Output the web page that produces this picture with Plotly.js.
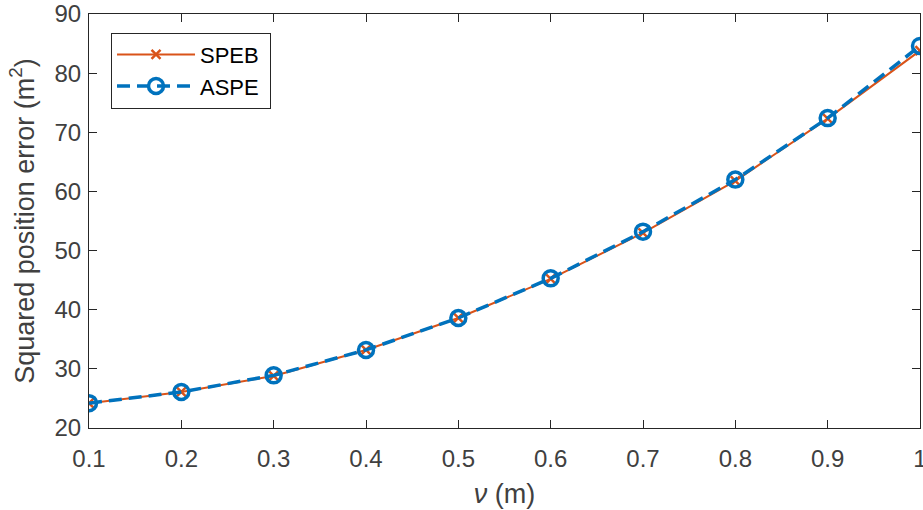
<!DOCTYPE html>
<html>
<head>
<meta charset="utf-8">
<script src="https://cdn.plot.ly/plotly-3.0.1.min.js"></script>
<style>html,body{margin:0;padding:0;background:#fff;}#chart{width:923px;height:510px;}</style>
</head>
<body>
<div id="chart"></div>
<script>
var nu = [0.1, 0.2, 0.3, 0.4, 0.5, 0.6, 0.7, 0.8, 0.9, 1.0];
var speb = [24.2, 26.1, 28.8, 33.2, 38.6, 45.2, 53.0, 61.8, 72.3, 83.8];
var aspe = [24.2, 26.1, 28.9, 33.2, 38.6, 45.3, 53.2, 62.0, 72.4, 84.6];
var seriesNames = ['SPEB\u00a0', 'ASPE\u00a0'];
var xTickVals = [0.1, 0.2, 0.3, 0.4, 0.5, 0.6, 0.7, 0.8, 0.9, 1.0];
var xTickText = ['0.1', '0.2', '0.3', '0.4', '0.5', '0.6', '0.7', '0.8', '0.9', '1'];
var yTickVals = [20, 30, 40, 50, 60, 70, 80, 90];

var FONT = 'Liberation Sans, Arial, Helvetica, sans-serif';

var traces = [
  {
    x: nu, y: speb, name: seriesNames[0], type: 'scatter', mode: 'lines+markers',
    line: {color: '#D95319', width: 2},
    marker: {symbol: 'x-thin-open', size: 9, color: '#D95319', line: {color: '#D95319', width: 2.5}}
  },
  {
    x: nu, y: aspe, name: seriesNames[1], type: 'scatter', mode: 'lines+markers',
    line: {color: '#0072BD', width: 3.5, dash: '13px,7px'},
    marker: {symbol: 'circle-open', size: 15, color: '#0072BD', line: {color: '#0072BD', width: 3.5}}
  }
];

var axisCommon = {
  showgrid: false, zeroline: false, showline: true, linecolor: '#262626', linewidth: 1,
  mirror: 'ticks', ticks: 'inside', ticklen: 8, tickcolor: '#262626', tickwidth: 1,
  ticklabeloverflow: 'allow',
  tickfont: {family: FONT, size: 24, color: '#404040'}
};

var layout = {
  width: 923, height: 510,
  margin: {l: 89, r: 3, t: 14, b: 82},
  paper_bgcolor: '#fff', plot_bgcolor: '#fff',
  showlegend: true,
  xaxis: Object.assign({}, axisCommon, {
    range: [0.1, 1.0], tickvals: xTickVals, ticktext: xTickText,
    ticklabelstandoff: 9,
    title: {text: '<i>ν</i> (m)', standoff: 13, font: {family: FONT, size: 27, color: '#404040'}}
  }),
  yaxis: Object.assign({}, axisCommon, {
    range: [20, 90], tickvals: yTickVals,
    ticklabelstandoff: 2,
    title: {text: 'Squared position error (m<sup>2</sup>)', standoff: 12, font: {family: FONT, size: 27, color: '#404040'}}
  }),
  legend: {
    x: 0.0265, y: 0.955, xanchor: 'left', yanchor: 'top',
    bgcolor: '#fff', bordercolor: '#262626', borderwidth: 1,
    font: {family: FONT, size: 22, color: '#000'},
    tracegroupgap: 0, itemwidth: 78
  }
};

Plotly.newPlot('chart', traces, layout, {displayModeBar: false, staticPlot: true});
</script>
</body>
</html>
